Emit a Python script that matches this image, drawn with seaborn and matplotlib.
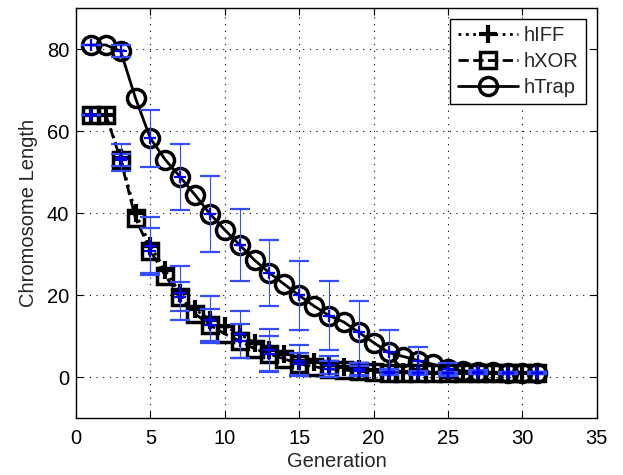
import numpy as np
import pandas as pd
import matplotlib
matplotlib.use("Agg")
import matplotlib.pyplot as plt
import seaborn as sns

generations = list(range(1, 32))

hiff = [64, 64, 53.5, 40, 32, 26, 20.5, 16.5, 14, 12.4, 10.4, 8.4, 6.6, 5.5, 4.0, 3.6,
        3.0, 2.5, 2.0, 1.6, 1.3, 1.1, 1.0, 1.0, 1.0, 1.0, 1.0, 1.0, 1.0, 1.0, 1.0]
hiff_err = [0, 0, 3.3, 0, 7.0, 0, 6.5, 0, 5.8, 0, 5.7, 0, 5.1, 0, 3.8, 0,
            2.2, 0, 1.5, 0, 0.6, 0, 0.4, 0, 0.3, 0, 0.2, 0, 0.2, 0, 0.2]

hxor = [64, 64, 53, 38.7, 30.8, 24.7, 19.6, 15.4, 12.7, 10.5, 8.8, 6.9, 5.6, 4.4, 3.2, 2.5,
        2.0, 1.7, 1.4, 1.2, 1.0, 1.0, 1.0, 1.0, 1.0, 1.0, 1.0, 1.0, 1.0, 1.0, 1.0]
hxor_err = [0, 0, 1.5, 0, 5.5, 0, 3.6, 0, 4.0, 0, 4.1, 0, 4.4, 0, 2.6, 0,
            2.0, 0, 1.2, 0, 0.5, 0, 0.3, 0, 0.2, 0, 0.2, 0, 0.2, 0, 0.2]

htrap = [81, 81, 79.5, 68, 58.2, 53, 48.8, 44.4, 39.8, 35.9, 32.2, 28.5, 25.4, 22.6, 19.9, 17.3,
         15.0, 13.4, 10.9, 8.4, 6.0, 5.0, 4.0, 3.1, 1.9, 1.5, 1.3, 1.1, 1.0, 1.0, 1.0]
htrap_err = [0, 0, 1.5, 0, 7.0, 0, 8.0, 0, 9.3, 0, 8.8, 0, 8.0, 0, 8.5, 0,
             8.3, 0, 7.6, 0, 5.4, 0, 3.2, 0, 1.6, 0, 0.5, 0, 0.3, 0, 0.3]

series_names = ["hIFF", "hXOR", "hTrap"]
series_vals = [hiff, hxor, htrap]
series_errs = [hiff_err, hxor_err, htrap_err]

x_ticks = [0, 5, 10, 15, 20, 25, 30, 35]
y_ticks = [0, 20, 40, 60, 80]

sns.set_style("ticks")
plt.rcParams['font.family'] = ['Liberation Sans', 'DejaVu Sans']

fig = plt.figure(figsize=(6.23, 4.75), dpi=100)
ax = fig.add_axes([0.122, 0.12, 0.836, 0.863])

styles = {
    "hIFF": dict(linestyle=":", marker="+", markersize=13, markeredgewidth=3),
    "hXOR": dict(linestyle="--", marker="s", markersize=11, markeredgewidth=2.5,
                 markerfacecolor="none"),
    "hTrap": dict(linestyle="-", marker="o", markersize=13, markeredgewidth=2.5,
                  markerfacecolor="none"),
}

for name, vals in zip(series_names, series_vals):
    df = pd.DataFrame({"Generation": generations, "Length": vals})
    st = styles[name]
    sns.lineplot(data=df, x="Generation", y="Length", ax=ax, color="black",
                 linewidth=2, label=name, markeredgecolor="black", zorder=2,
                 **st)

for vals, errs in zip(series_vals, series_errs):
    xs = generations[::2]
    ys = vals[::2]
    es = errs[::2]
    ax.errorbar(xs, ys, yerr=es, fmt="+", color="blue", ecolor=(0.2, 0.3, 1.0),
                elinewidth=0.8, capsize=7, capthick=0.8, markersize=8,
                markeredgewidth=1.6, zorder=4)

ax.set_xlim(0, 35)
ax.set_ylim(-10, 90)
ax.set_xticks(x_ticks)
ax.set_yticks(y_ticks)
ax.grid(True, linestyle=(0, (1, 5)), color="black", linewidth=0.8)
ax.tick_params(direction="in", top=True, right=True, labelsize=14.5, length=5,
               color="black", labelcolor="black")
ax.tick_params(axis="x", pad=8)
ax.tick_params(axis="y", pad=5)
for s in ax.spines.values():
    s.set_color("black")
    s.set_linewidth(1.0)
ax.set_xlabel("Generation", fontsize=14.5, labelpad=3)
ax.set_ylabel("Chromosome Length", fontsize=14.5, labelpad=6)

leg = ax.legend(loc="upper right", fontsize=14.5, frameon=True, fancybox=False,
                edgecolor="black", framealpha=1, borderaxespad=0.55,
                handlelength=3.0, handletextpad=0.3, labelspacing=0.35,
                borderpad=0.35)
leg.get_frame().set_linewidth(1.0)

fig.savefig("out.png", dpi=100)
